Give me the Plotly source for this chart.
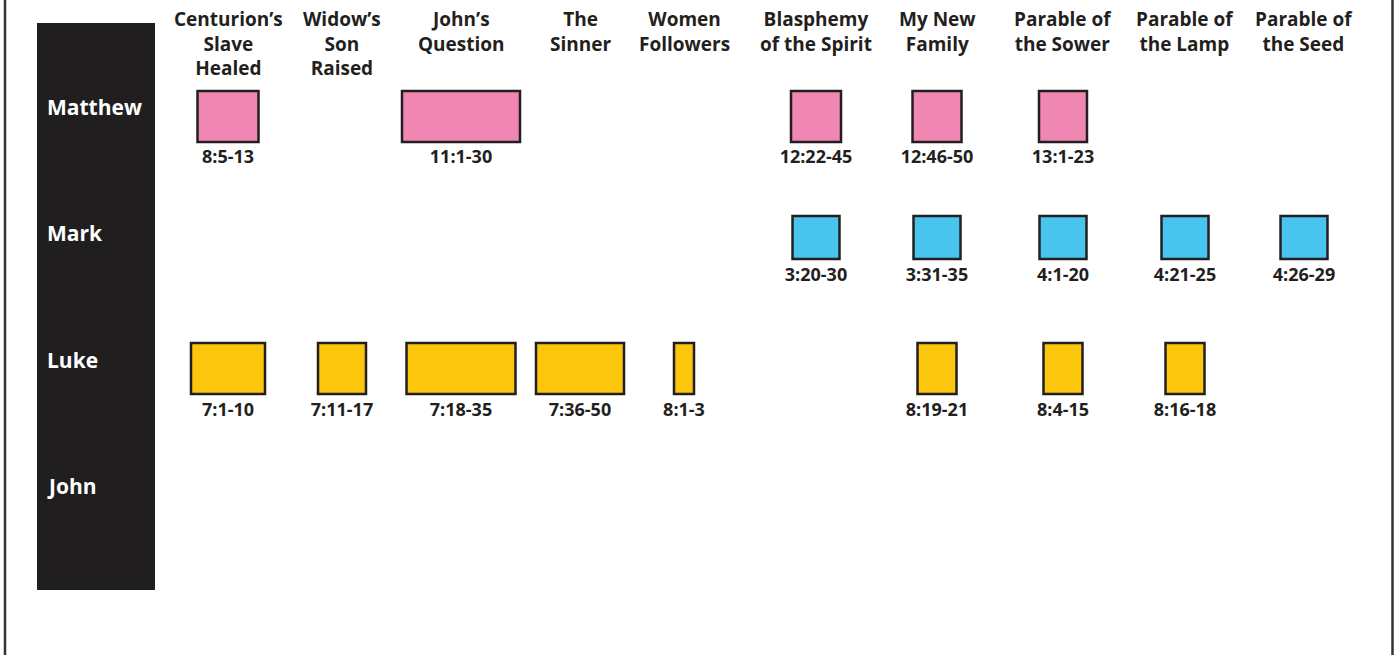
import plotly.graph_objects as go

# ---------------- data ----------------
events = ["Centurion’s<br>Slave<br>Healed", "Widow’s<br>Son<br>Raised", "John’s<br>Question",
          "The<br>Sinner", "Women<br>Followers", "Blasphemy<br>of the Spirit", "My New<br>Family",
          "Parable of<br>the Sower", "Parable of<br>the Lamp", "Parable of<br>the Seed"]
gospels = ["Matthew", "Mark", "Luke", "John"]

matthew_cols = [0, 2, 5, 6, 7]
matthew_refs = ["8:5-13", "11:1-30", "12:22-45", "12:46-50", "13:1-23"]
matthew_size = [61, 118, 50, 49, 48]

mark_cols = [5, 6, 7, 8, 9]
mark_refs = ["3:20-30", "3:31-35", "4:1-20", "4:21-25", "4:26-29"]
mark_size = [47, 47, 47, 47, 47]

luke_cols = [0, 1, 2, 3, 4, 6, 7, 8]
luke_refs = ["7:1-10", "7:11-17", "7:18-35", "7:36-50", "8:1-3", "8:19-21", "8:4-15", "8:16-18"]
luke_size = [74, 48, 109, 88, 20, 39, 39, 39]

john_cols, john_refs, john_size = [], [], []

# ---------------- layout constants ----------------
W, H = 1396, 655
col_x = [228, 342, 461, 580, 684, 816, 937, 1063, 1185, 1304]
row_y = [116.5, 237.5, 368.5, 486]
row_h = [51, 43, 51, 51]
label_y = [158, 276, 411, 530]
colors = ["#EF87B2", "#47C5EE", "#FBC60C", "#FBC60C"]
dark = "#231F20"
FONT = "Open Sans"

series = [(matthew_cols, matthew_refs, matthew_size),
          (mark_cols, mark_refs, mark_size),
          (luke_cols, luke_refs, luke_size),
          (john_cols, john_refs, john_size)]

fig = go.Figure()

# black column behind the gospel names
fig.add_shape(type="rect", xref="x", yref="y", x0=37, x1=155, y0=23, y1=590,
              fillcolor="#201E1F", line_width=0, layer="below")
# page edges
for xe in (5, 1392.5):
    fig.add_shape(type="line", xref="x", yref="y", x0=xe, x1=xe, y0=0, y1=H,
                  line=dict(color="#333", width=2.5))

for gi, (cols, refs, sizes) in enumerate(series):
    if not cols:
        continue
    xc = [col_x[c] for c in cols]
    fig.add_trace(go.Bar(
        orientation="h",
        y=[row_y[gi]] * len(cols),
        x=sizes,
        base=[x - s / 2 for x, s in zip(xc, sizes)],
        width=row_h[gi],
        marker=dict(color=colors[gi], line=dict(color=dark, width=2.5)),
        name=gospels[gi],
        showlegend=False,
        hoverinfo="skip",
    ))
    fig.add_trace(go.Scatter(
        x=xc, y=[label_y[gi]] * len(cols), mode="text", text=refs,
        textfont=dict(family=FONT, size=18, color=dark, weight="bold"),
        textposition="middle center", showlegend=False, hoverinfo="skip",
    ))

# gospel names
for gi, g in enumerate(gospels):
    fig.add_annotation(x=45, y=[107, 233, 360, 486][gi], text=g, showarrow=False,
                       xanchor="left", yanchor="middle",
                       font=dict(family=FONT, size=21, color="white", weight="bold"))

# column headers
for ci, ev in enumerate(events):
    fig.add_annotation(x=col_x[ci], y=4, text=ev, showarrow=False,
                       xanchor="center", yanchor="top", align="center",
                       font=dict(family=FONT, size=19, color=dark, weight="bold"))

fig.update_layout(
    width=W, height=H, margin=dict(l=0, r=0, t=0, b=0),
    paper_bgcolor="white", plot_bgcolor="white", barmode="overlay",
    xaxis=dict(range=[0, W], visible=False, fixedrange=True),
    yaxis=dict(range=[H, 0], visible=False, fixedrange=True),
)

fig.write_html("out.html", config={"displayModeBar": False},
               post_script="document.body.style.margin='0';document.body.style.overflow='hidden';")
